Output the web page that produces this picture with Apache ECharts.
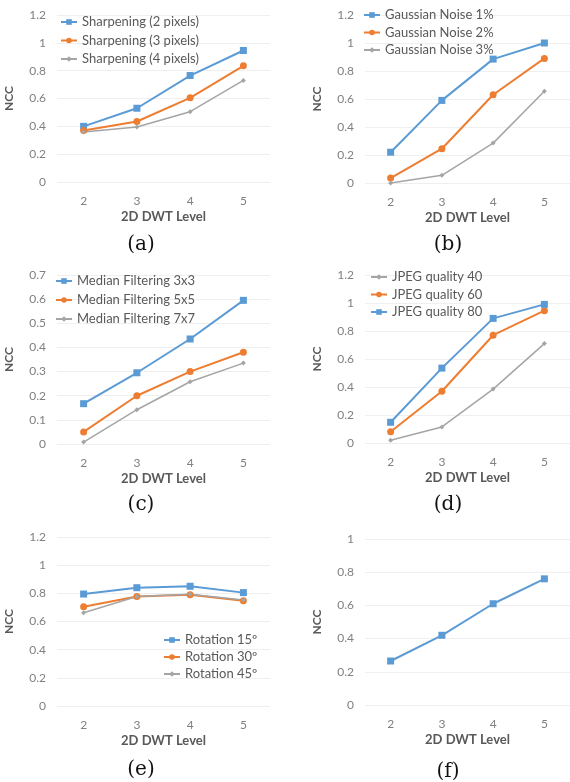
<!DOCTYPE html>
<html>
<head>
<meta charset="utf-8">
<script src="https://cdn.jsdelivr.net/npm/echarts@6/dist/echarts.min.js"></script>
<style>
  html, body { margin: 0; padding: 0; background: #fff; }
  #chart { width: 570px; height: 782px; }
</style>
</head>
<body>
<div id="chart"></div>
<script>
// x categories shared by every panel
const levels = ['2', '3', '4', '5'];

// (a) sharpening
const sharp2 = [0.40, 0.53, 0.765, 0.945];
const sharp3 = [0.37, 0.435, 0.605, 0.835];
const sharp4 = [0.36, 0.395, 0.505, 0.73];
// (b) gaussian noise
const noise1 = [0.22, 0.59, 0.885, 1.0];
const noise2 = [0.035, 0.245, 0.63, 0.89];
const noise3 = [0.0, 0.055, 0.285, 0.655];
// (c) median filtering
const median3 = [0.167, 0.295, 0.435, 0.595];
const median5 = [0.05, 0.2, 0.3, 0.38];
const median7 = [0.008, 0.142, 0.258, 0.335];
// (d) jpeg
const jpeg40 = [0.02, 0.115, 0.385, 0.71];
const jpeg60 = [0.08, 0.37, 0.77, 0.945];
const jpeg80 = [0.148, 0.535, 0.89, 0.99];
// (e) rotation
const rot15 = [0.795, 0.84, 0.85, 0.805];
const rot30 = [0.705, 0.778, 0.79, 0.748];
const rot45 = [0.662, 0.777, 0.793, 0.752];
// (f) single series
const single = [0.265, 0.42, 0.61, 0.76];

const captions = ['(a)', '(b)', '(c)', '(d)', '(e)', '(f)'];

const BLUE = '#5b9bd5', ORANGE = '#ed7d31', GRAY = '#a5a5a5';
const FONT = 'Lato';

// grid boxes for the six panels
const grids = [
    { left: 57, top: 15, width: 213, height: 167 },
    { left: 365, top: 15, width: 213, height: 168 },
    { left: 57, top: 275, width: 213, height: 169 },
    { left: 365, top: 275, width: 213, height: 168 },
    { left: 57, top: 537, width: 213, height: 169 },
    { left: 365, top: 539, width: 213, height: 166 },
];
const yMax = [1.2, 1.2, 0.7, 1.2, 1.2, 1];
const yStep = [0.2, 0.2, 0.1, 0.2, 0.2, 0.2];

function mkSeries(name, data, idx, kind) {
    var s = {
        name: name,
        type: 'line',
        xAxisIndex: idx,
        yAxisIndex: idx,
        data: data,
        animation: false,
    };
    if (kind === 'blue') {
        s.color = BLUE; s.symbol = 'rect'; s.symbolSize = 7;
        s.lineStyle = { width: 2, color: BLUE };
    } else if (kind === 'orange') {
        s.color = ORANGE; s.symbol = 'circle'; s.symbolSize = 7;
        s.lineStyle = { width: 2, color: ORANGE };
    } else {
        s.color = GRAY; s.symbol = 'diamond'; s.symbolSize = 5;
        s.lineStyle = { width: 1.5, color: GRAY };
    }
    s.itemStyle = { color: s.color };
    return s;
}

var series = [
    mkSeries('Sharpening (2 pixels)', sharp2, 0, 'blue'),
    mkSeries('Sharpening (3 pixels)', sharp3, 0, 'orange'),
    mkSeries('Sharpening (4 pixels)', sharp4, 0, 'gray'),
    mkSeries('Gaussian Noise 1%', noise1, 1, 'blue'),
    mkSeries('Gaussian Noise 2%', noise2, 1, 'orange'),
    mkSeries('Gaussian Noise 3%', noise3, 1, 'gray'),
    mkSeries('Median Filtering 3x3', median3, 2, 'blue'),
    mkSeries('Median Filtering 5x5', median5, 2, 'orange'),
    mkSeries('Median Filtering 7x7', median7, 2, 'gray'),
    mkSeries('JPEG quality 40', jpeg40, 3, 'gray'),
    mkSeries('JPEG quality 60', jpeg60, 3, 'orange'),
    mkSeries('JPEG quality 80', jpeg80, 3, 'blue'),
    mkSeries('Rotation 15º', rot15, 4, 'blue'),
    mkSeries('Rotation 30º', rot30, 4, 'orange'),
    mkSeries('Rotation 45º', rot45, 4, 'gray'),
    mkSeries('single', single, 5, 'blue'),
];

function mkLegend(names, left, top, gap) {
    return {
        orient: 'vertical',
        left: left,
        top: top,
        itemWidth: 16,
        itemHeight: 7,
        itemGap: gap,
        padding: 0,
        data: names,
        textStyle: { fontFamily: FONT, fontSize: 13, color: '#595959' },
    };
}

var legends = [
    mkLegend(['Sharpening (2 pixels)', 'Sharpening (3 pixels)', 'Sharpening (4 pixels)'], 60, 15.5, 5.5),
    mkLegend(['Gaussian Noise 1%', 'Gaussian Noise 2%', 'Gaussian Noise 3%'], 363, 8.5, 4.5),
    mkLegend(['Median Filtering 3x3', 'Median Filtering 5x5', 'Median Filtering 7x7'], 55, 274.5, 6),
    mkLegend(['JPEG quality 40', 'JPEG quality 60', 'JPEG quality 80'], 370, 270.5, 4.5),
    mkLegend(['Rotation 15º', 'Rotation 30º', 'Rotation 45º'], 163, 633.5, 4),
];

var xAxes = grids.map((g, i) => ({
    type: 'category',
    gridIndex: i,
    data: levels,
    boundaryGap: true,
    axisLine: { show: false },
    axisTick: { show: false },
    axisLabel: { margin: 13, fontFamily: FONT, fontSize: 12, color: '#808080' },
    name: '2D DWT Level',
    nameLocation: 'middle',
    nameGap: 28,
    nameTextStyle: { fontFamily: FONT, fontSize: 13, fontWeight: 'bold', color: '#595959' },
}));

var yAxes = grids.map((g, i) => ({
    type: 'value',
    gridIndex: i,
    min: 0,
    max: yMax[i],
    interval: yStep[i],
    axisLine: { show: false },
    axisTick: { show: false },
    splitLine: { lineStyle: { color: '#efefef', width: 1 } },
    axisLabel: { margin: 11, fontFamily: FONT, fontSize: 12, color: '#808080' },
    name: 'NCC',
    nameLocation: 'middle',
    nameGap: 42,
    nameTextStyle: { fontFamily: FONT, fontSize: 12, fontWeight: 'bold', color: '#595959' },
}));

var capPos = [[141, 245], [448, 245], [141, 505], [448, 505], [141, 770], [448, 772]];
var graphics = captions.map((c, i) => ({
    type: 'text',
    x: capPos[i][0],
    y: capPos[i][1],
    style: {
        text: c,
        fontFamily: 'DejaVu Serif',
        fontSize: 20,
        fill: '#111',
        textAlign: 'center',
        textVerticalAlign: 'middle',
    },
}));

var chart = echarts.init(document.getElementById('chart'), null, { renderer: 'canvas' });
chart.setOption({
    animation: false,
    backgroundColor: '#fff',
    grid: grids,
    xAxis: xAxes,
    yAxis: yAxes,
    legend: legends,
    series: series,
    graphic: graphics,
});
</script>
</body>
</html>
